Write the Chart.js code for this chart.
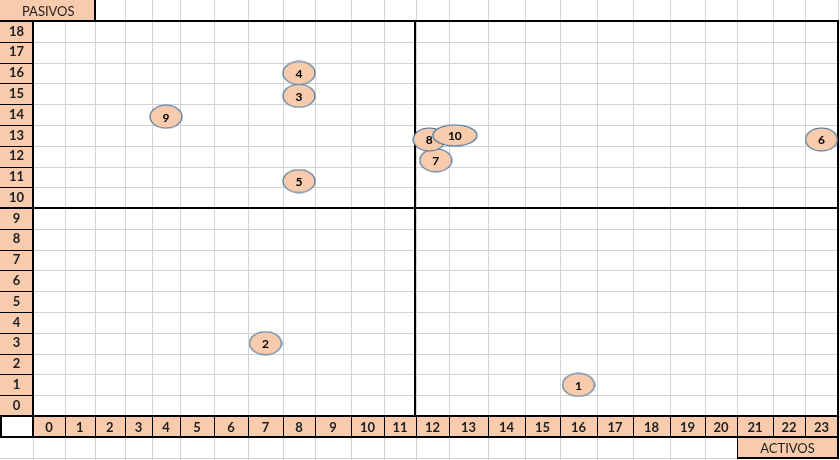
<!DOCTYPE html>
<html>
<head>
<meta charset="utf-8">
<script src="https://cdn.jsdelivr.net/npm/chart.js@4.4.1/dist/chart.umd.min.js"></script>
<style>
html,body{margin:0;padding:0;background:#fff;overflow:hidden}
#wrap{width:840px;height:460px;position:relative}
canvas{display:block}
</style>
</head>
<body>
<div id="wrap"><canvas id="c"></canvas></div>
<script>
// data
const bubbleIds = ['1','2','3','4','5','6','7','8','9','10'];
const activos   = [16, 7, 8, 8, 8, 23, 12.1, 11.9, 4, 12.65];
const pasivos   = [1, 3, 14.9, 16, 10.8, 12.8, 11.8, 12.8, 13.9, 13.0];
const activosTicks = [0,1,2,3,4,5,6,7,8,9,10,11,12,13,14,15,16,17,18,19,20,21,22,23];
const pasivosTicks = [0,1,2,3,4,5,6,7,8,9,10,11,12,13,14,15,16,17,18];
const xLabel = 'ACTIVOS', yLabel = 'PASIVOS';

// look of the sheet
const colWidths = [32,29.5,30.5,27,28,34,34,35,32,36,33,32,33,39,37,35,37,36,37,35,32,36,32,33];
const peach = '#f8cbad', gridGrey = '#d4d4d4', ink = '#1d1d1d', outline = '#41719c';
const splitX = 11.5, splitY = 9.5;

// x scale with uneven column widths like the spreadsheet
class SheetScale extends Chart.LinearScale {
  getPixelForValue(v){
    const total = colWidths.reduce((a,b)=>a+b,0);
    const k = (this.right-this.left)/total;
    let i = Math.max(0, Math.min(colWidths.length-1, Math.floor(v+0.5)));
    let f = v+0.5-i, acc = 0;
    for (let j=0;j<i;j++) acc += colWidths[j];
    return this.left + (acc + f*colWidths[i])*k;
  }
  getValueForPixel(p){
    const total = colWidths.reduce((a,b)=>a+b,0);
    const k = (this.right-this.left)/total;
    let acc = this.left;
    for (let i=0;i<colWidths.length;i++){
      const w = colWidths[i]*k;
      if (p <= acc+w || i==colWidths.length-1) return i-0.5+(p-acc)/w;
      acc += w;
    }
  }
}
SheetScale.id = 'sheet';
SheetScale.defaults = Chart.LinearScale.defaults;
Chart.register(SheetScale);

function ellipse(w,h){
  const cv = document.createElement('canvas');
  cv.width = w+2; cv.height = h+2;
  const c = cv.getContext('2d');
  c.beginPath();
  c.ellipse((w+2)/2,(h+2)/2,w/2,h/2,0,0,Math.PI*2);
  c.fillStyle = peach; c.fill();
  c.lineWidth = 1.2; c.strokeStyle = outline; c.stroke();
  return cv;
}
const shapes = bubbleIds.map(id => id=='10' ? ellipse(44,21) : ellipse(32,23));

function hline(ctx,y,x0,x1){ ctx.beginPath(); ctx.moveTo(x0,y); ctx.lineTo(x1,y); ctx.stroke(); }
function vline(ctx,x,y0,y1){ ctx.beginPath(); ctx.moveTo(x,y0); ctx.lineTo(x,y1); ctx.stroke(); }
const px = v => Math.round(v)+0.5;

const sheet = {
  id:'sheet',
  beforeDraw(chart){
    const ctx = chart.ctx, xs = chart.scales.x, ys = chart.scales.y;
    const W = chart.width, H = chart.height;
    const L = xs.left, R = xs.right, T = ys.top, B = ys.bottom, XB = xs.bottom;
    const rh = ys.getPixelForValue(0)-ys.getPixelForValue(1);
    const colE = [], rowE = [];
    for (let i=0;i<=colWidths.length;i++) colE.push(xs.getPixelForValue(i-0.5));
    for (let v=0;v<=pasivosTicks.length;v++) rowE.push(ys.getPixelForValue(v-0.5));
    const pasR = colE[2], actL = colE[21];
    ctx.save();
    ctx.fillStyle = '#fff'; ctx.fillRect(0,0,W,H);
    // light sheet grid
    ctx.strokeStyle = gridGrey; ctx.lineWidth = 1;
    colE.forEach((e,i)=>{
      vline(ctx,px(e), e>pasR+1 ? 0 : T, XB);
      if (i<22 || i==24) vline(ctx,px(e),XB,H);
    });
    vline(ctx,px(L),XB,H);
    rowE.forEach(e=>hline(ctx,px(e),0,W));
    hline(ctx,px(XB+rh),0,W);
    // header fills
    ctx.fillStyle = peach;
    ctx.fillRect(0,T,L,B-T);
    ctx.fillRect(L,B,R-L,XB-B);
    ctx.fillRect(0,0,pasR,T);
    ctx.fillRect(actL,XB,R-actL,rh);
    // thin borders of header cells
    ctx.strokeStyle = '#000'; ctx.lineWidth = 1;
    rowE.forEach(e=>hline(ctx,px(e),0,L));
    colE.forEach(e=>vline(ctx,px(e),B,XB));
    vline(ctx,px(actL),XB,XB+rh);
    // thick borders
    ctx.lineWidth = 2;
    const q = v => Math.round(v);
    hline(ctx,q(T),0,R+1);
    hline(ctx,q(B),0,R+1);
    hline(ctx,q(XB),0,R+1);
    hline(ctx,q(XB+rh),actL,R+1);
    vline(ctx,q(L),T,XB);
    vline(ctx,q(R),T,XB+rh);
    vline(ctx,1,B,XB);
    vline(ctx,q(pasR),0,T);
    hline(ctx,q(ys.getPixelForValue(splitY)),0,R+1);
    vline(ctx,q(xs.getPixelForValue(splitX))-1,T,B);
    // corner labels
    ctx.fillStyle = ink; ctx.font = '13px Lato';
    ctx.textAlign = 'center'; ctx.textBaseline = 'middle';
    ctx.fillText(yLabel,pasR/2+1,T/2+1);
    ctx.fillText(xLabel,(actL+R)/2,XB+rh/2+1);
    ctx.restore();
  },
  afterDatasetsDraw(chart){
    const ctx = chart.ctx;
    const meta = chart.getDatasetMeta(0);
    ctx.save();
    ctx.fillStyle = '#000'; ctx.font = 'bold 12px Lato';
    ctx.textAlign = 'center'; ctx.textBaseline = 'middle';
    meta.data.forEach((el,i)=>ctx.fillText(bubbleIds[i],el.x,el.y+1));
    ctx.restore();
  }
};

const tickFont = {family:'Lato',size:13,weight:'bold'};

new Chart(document.getElementById('c'),{
  type:'scatter',
  data:{
    datasets:[{
      data: activos.map((a,i)=>({x:a,y:pasivos[i]})),
      pointStyle: shapes,
      pointRadius: 12
    }]
  },
  options:{
    responsive:true, maintainAspectRatio:false, animation:false, events:[],
    layout:{autoPadding:false,padding:{left:0,top:21,right:2,bottom:23}},
    plugins:{legend:{display:false},tooltip:{enabled:false}},
    scales:{
      x:{type:'sheet',position:'bottom',min:-0.5,max:23.5,
        afterBuildTicks:s=>{s.ticks=activosTicks.map(v=>({value:v}));},
        afterFit:s=>{s.height=21;},
        grid:{display:false,drawTicks:false},border:{display:false},
        ticks:{autoSkip:false,maxRotation:0,padding:4,font:tickFont,color:ink}},
      y:{type:'linear',position:'left',min:-0.5,max:18.5,
        afterBuildTicks:s=>{s.ticks=pasivosTicks.map(v=>({value:v}));},
        afterFit:s=>{s.width=33;},
        grid:{display:false,drawTicks:false},border:{display:false},
        ticks:{autoSkip:false,crossAlign:'center',padding:9,font:tickFont,color:ink}}
    }
  },
  plugins:[sheet]
});
</script>
</body>
</html>
